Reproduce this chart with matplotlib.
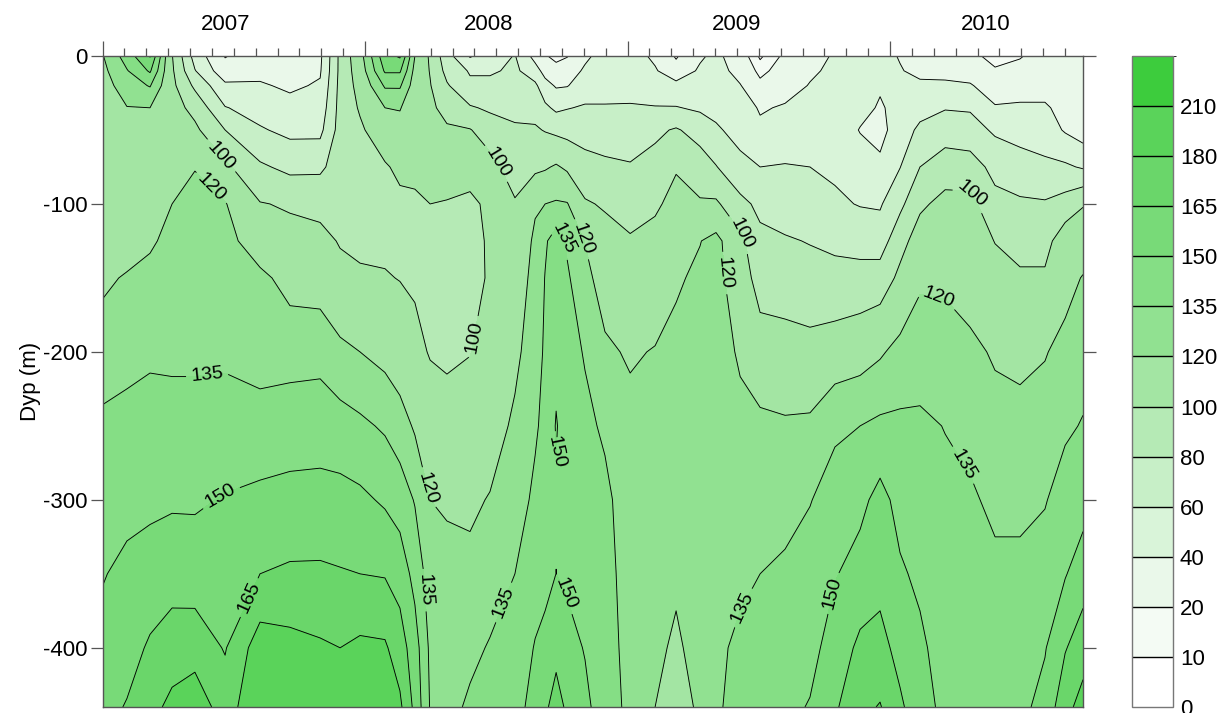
import numpy as np
import matplotlib
matplotlib.use('Agg')
import matplotlib.pyplot as plt
import matplotlib.transforms as mtransforms
from matplotlib.colors import ListedColormap, BoundaryNorm
from matplotlib.ticker import FixedLocator, NullFormatter

plt.rcParams['font.family'] = ['Liberation Sans', 'DejaVu Sans']
plt.rcParams['axes.unicode_minus'] = False

# sampling times (decimal year) and depths (m)
times = [2007.000, 2007.093, 2007.181, 2007.265, 2007.352, 2007.467, 2007.600, 2007.714,
         2007.829, 2007.905, 2007.981, 2008.076, 2008.133, 2008.190, 2008.248, 2008.312,
         2008.400, 2008.476, 2008.571, 2008.648, 2008.686, 2008.728, 2008.770, 2008.838,
         2008.914, 2009.010, 2009.105, 2009.185, 2009.276, 2009.337, 2009.429, 2009.505,
         2009.600, 2009.695, 2009.790, 2009.886, 2009.962, 2010.038, 2010.114, 2010.210,
         2010.305, 2010.400, 2010.495, 2010.590, 2010.667, 2010.735]
depths = [0, 10, 20, 35, 50, 75, 100, 125, 150, 200, 250, 300, 350, 400, 440]

# one profile per time, values at the depths above
profiles = [
    [119, 116, 113, 110, 108, 107, 109, 112, 118, 125, 139, 143, 149, 155, 160],
    [142, 134, 128, 119.5, 114, 109, 111, 115, 121, 131, 139, 145, 154, 159, 166],
    [166, 152, 136, 120, 114, 111, 113, 118, 124, 133, 140, 147, 156, 167, 175],
    [101, 103, 105, 108, 110, 114, 120, 124, 127, 133, 139, 148, 159, 172, 184],
    [52, 61, 76, 94, 104, 119.5, 124, 127, 130, 133, 139, 148, 158, 173, 190],
    [19, 27, 44, 61, 80, 104, 121, 126, 129, 133, 140, 151, 159, 164, 172],
    [30, 35, 42, 52, 62, 83, 101, 110, 124, 131, 139, 154, 165, 188, 194],
    [30, 33, 37, 46, 55, 75, 98, 106, 114, 130, 142, 155, 167, 185, 192],
    [36, 38, 42, 48, 55, 76, 96, 104, 112, 131, 142, 156, 167, 182, 189],
    [85, 85, 86, 87, 88, 90, 93, 99, 104, 124, 141, 155, 166, 180, 187],
    [114, 111, 107, 102, 97, 93, 93, 97, 102, 120, 138, 153, 165, 183, 188],
    [160, 152, 137, 120, 112, 98, 95, 97, 101, 115, 133, 148, 164, 182, 186],
    [167, 152, 137, 121, 114, 104, 96, 96, 99.5, 110, 127, 143, 159, 172, 183],
    [120, 115, 112, 109, 106, 103, 98, 96, 98, 104, 118, 134, 145, 157, 161],
    [97, 99, 101, 103, 104, 103, 100, 97, 95, 99, 108, 120, 128, 132, 134],
    [68, 74, 82, 95, 102, 104, 99.5, 96, 94, 97, 107, 118, 125, 129, 131],
    [38, 58, 64, 82, 101, 106, 97, 95, 94, 99.5, 108, 117, 124, 132, 137],
    [50, 57, 66, 77, 90, 107, 103, 102, 102, 106, 112, 121, 129, 136, 140],
    [61, 64, 68, 76, 82, 90, 102, 107, 111, 116, 123, 128, 135, 140, 144],
    [33, 48, 64, 74, 82, 96, 118, 123, 125, 129, 133, 138, 143, 151, 156],
    [22, 33, 47, 64, 79, 98, 120, 133, 135.5, 137, 139, 140, 145, 155, 162],
    [14, 28, 38, 56, 76, 102, 122, 142, 143, 146, 151, 148.5, 150.1, 160, 172],
    [19, 30, 39, 59, 74, 97, 121, 133, 137, 140, 143, 145, 147, 156, 162],
    [36, 43, 50, 62, 71, 88, 102, 119.5, 125, 134, 138, 141, 144, 149, 154],
    [48, 51, 55, 61, 70, 84, 98, 107, 112, 123, 133, 138, 139, 140, 141],
    [49, 52, 56, 61, 67, 82, 92, 102, 107, 118, 125, 128, 130, 131, 132],
    [36, 42, 49, 61, 76, 87, 98, 104, 109, 121, 127, 128, 127, 124, 120],
    [18, 27, 46, 61, 82, 99, 104, 110, 118, 124, 127, 126, 123, 117, 112],
    [37, 43, 48, 57, 72, 90, 102, 119.5, 123, 127, 129, 130, 130, 127, 123],
    [45, 48, 52, 56, 62, 81, 103, 125, 126, 127, 128, 129, 130, 132, 133],
    [28, 33, 41, 50, 55, 64, 86, 105, 109, 118, 124, 128, 132, 138, 140],
    [8, 16, 24, 38, 44, 60, 75, 85, 93, 108, 124, 131, 135, 139, 142],
    [23, 27, 32, 42, 50, 61, 70, 82, 90, 108, 122, 131, 137, 142, 146],
    [33, 37, 41, 46, 51, 60, 66, 79, 88, 106, 123, 134.5, 140, 145, 151],
    [42, 44, 47, 50, 53, 57, 63, 76, 86, 110, 133, 140, 149, 157, 163],
    [44, 46, 48, 46, 39, 50, 59, 72, 88, 113, 135, 146, 156, 168, 176],
    [45, 44, 42, 38, 34, 44, 58, 70, 90, 118, 138, 155, 161, 169, 181],
    [39, 41, 43, 46, 50, 59.5, 75, 94, 104, 125, 138, 145, 152, 161, 167],
    [32, 36, 43, 53, 64, 80, 97, 108, 118, 127, 138, 142, 147, 153, 158],
    [30, 35, 43, 59, 69, 92, 105, 110, 118, 125, 134.5, 139, 141, 143, 145],
    [25, 30, 42, 58, 68, 89, 106, 109, 112, 124, 131, 137, 140, 142, 144],
    [14, 22, 28, 42, 57, 74, 86, 99.5, 106, 118, 126, 132, 138, 141, 143],
    [19, 24, 31, 43, 53, 68, 83, 93, 103, 116, 125, 132, 138, 143, 146],
    [26, 30, 34, 42, 50, 64, 82, 93, 103, 119, 127, 134, 142, 149, 155],
    [28, 30, 32, 35, 38, 63, 88, 112, 114, 125, 132.5, 142, 149, 164, 175],
    [30, 30, 30, 30, 30, 58, 99, 110, 121, 129, 136, 144, 158, 173, 186],
]

levels = [0, 10, 20, 40, 60, 80, 100, 120, 135, 150, 165, 180, 210, 240]
band_colors = ['#ffffff', '#f4fbf4', '#eaf8ea', '#d9f4d9', '#c7efc7', '#b5eab5',
               '#a3e5a3', '#91e191', '#85de85', '#78da78', '#6ad66a', '#5ad35a', '#3dcc3d']

years = ['2007', '2008', '2009', '2010']
year_label_x = [2007.470, 2008.472, 2009.417, 2010.366]

# contour label spots (time, -depth)
label_spots = {
    100: [(2007.455, -67), (2008.507, -72), (2008.419, -190), (2009.436, -120), (2010.316, -93)],
    120: [(2007.421, -88), (2008.236, -292), (2008.838, -123), (2009.345, -147), (2010.183, -163)],
    135: [(2007.398, -214), (2008.754, -124), (2008.232, -361), (2008.537, -370),
          (2009.429, -372), (2010.293, -275)],
    150: [(2007.440, -295), (2008.724, -268), (2008.770, -363), (2009.779, -363)],
    165: [(2007.558, -366)],
}

Z = np.array(profiles).T
X, Y = np.meshgrid(times, -np.array(depths))

cmap = ListedColormap(band_colors)
norm = BoundaryNorm(levels, cmap.N)

fig = plt.figure(figsize=(12.18, 7.13), dpi=100)
ax = fig.add_axes([102.5 / 1218, 6 / 713, 980.5 / 1218, 651 / 713])

cf = ax.contourf(X, Y, Z, levels=levels, cmap=cmap, norm=norm)
plain_levels = [v for v in levels[1:-1] if v not in label_spots]
ax.contour(X, Y, Z, levels=plain_levels, colors='black', linewidths=0.65)
for lev, spots in label_spots.items():
    cs = ax.contour(X, Y, Z, levels=[lev], colors='black', linewidths=0.65)
    ax.clabel(cs, manual=spots, fmt='%d', fontsize=14, inline=True, inline_spacing=5)

ax.set_xlim(times[0], times[-1])
ax.set_ylim(-440, 0)

# top time axis
ax.xaxis.tick_top()
ax.xaxis.set_major_locator(FixedLocator([2007, 2008, 2009, 2010]))
ax.xaxis.set_minor_locator(FixedLocator([2007 + m / 12 for m in range(1, 45)]))
ax.xaxis.set_major_formatter(NullFormatter())
ax.tick_params(axis='x', which='major', direction='out', length=11, width=0.9,
               color='#555555', top=True, bottom=False)
ax.tick_params(axis='x', which='minor', direction='out', length=5.5, width=0.9,
               color='#555555', top=True, bottom=False)
trans = mtransforms.blended_transform_factory(ax.transData, ax.transAxes)
for yr, xp in zip(years, year_label_x):
    ax.text(xp, 1.048, yr, transform=trans, ha='center', va='center', fontsize=16)

ax.set_yticks([0, -100, -200, -300, -400])
ax.set_yticklabels(['0', '-100', '-200', '-300', '-400'])
ax.tick_params(axis='y', direction='out', length=9, width=0.9, color='#555555',
               left=True, right=True, labelsize=16, pad=2)
ax.set_ylabel('Dyp (m)', fontsize=16, labelpad=1)

for sp in ax.spines.values():
    sp.set_color('#555555')
    sp.set_linewidth(1)

cax = fig.add_axes([1132 / 1218, 6 / 713, 41 / 1218, 651 / 713])
cb = fig.colorbar(cf, cax=cax, ticks=levels[:-1], drawedges=True)
cb.set_ticklabels([str(v) for v in levels[:-1]])
cb.outline.set_edgecolor('#777777')
cb.outline.set_linewidth(1)
cb.dividers.set_color('black')
cb.dividers.set_linewidth(1)
cax.tick_params(length=0, labelsize=16, pad=5)

fig.savefig('out.png', dpi=100)
